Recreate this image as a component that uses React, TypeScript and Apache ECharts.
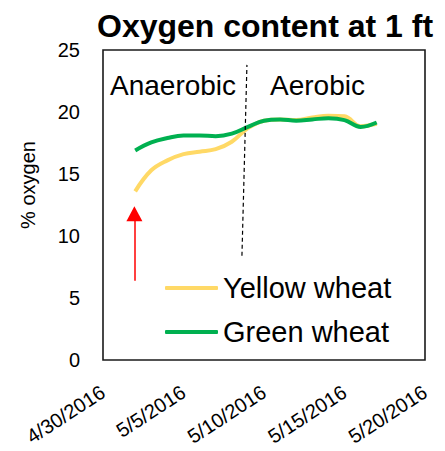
import React, { useEffect, useRef } from "react";
import * as echarts from "echarts";

const titleText = "Oxygen content at 1 ft";
const yAxisTitle = "% oxygen";
const startDate = "4/30/2016";
const xTickLabels = ["4/30/2016", "5/5/2016", "5/10/2016", "5/15/2016", "5/20/2016"];
const dates = [
  "5/2/2016", "5/3/2016", "5/4/2016", "5/5/2016", "5/6/2016", "5/7/2016", "5/8/2016", "5/9/2016",
  "5/10/2016", "5/11/2016", "5/12/2016", "5/13/2016", "5/14/2016", "5/15/2016", "5/16/2016", "5/17/2016",
];
const yellowWheat = [13.6, 15.3, 16.1, 16.6, 16.8, 17.0, 17.6, 18.7, 19.3, 19.4, 19.35, 19.55, 19.7, 19.65, 18.85, 19.05];
const greenWheat = [16.9, 17.55, 17.9, 18.1, 18.1, 18.05, 18.25, 18.8, 19.3, 19.4, 19.3, 19.4, 19.5, 19.35, 18.8, 19.15];
const seriesNames = ["Yellow wheat", "Green wheat"];
const seriesColors = ["#FFD966", "#00B050"];
const phaseLabels = ["Anaerobic", "Aerobic"];
// annotation positions in data units (day offset, % oxygen)
const dividerLine = [[8.63, 8.4], [8.94, 23.8]];
const arrowLine = [[1.95, 6.4], [1.95, 11.8]];

const FONT = "Liberation Sans";

function parseDate(s: string): number {
  const [m, d, y] = s.split("/").map(Number);
  return Date.UTC(y, m - 1, d);
}
const DAY = 86400000;
const base = parseDate(startDate);
const dayOffset = (s: string) => Math.round((parseDate(s) - base) / DAY);

export default function App() {
  const ref = useRef<HTMLDivElement>(null);
  useEffect(() => {
    if (!ref.current) return;
    const chart = echarts.init(ref.current, null, { renderer: "svg" });
    const xs = dates.map(dayOffset);
    chart.setOption({
      animation: false,
      backgroundColor: "#fff",
      title: {
        text: titleText,
        left: 97,
        top: 10,
        padding: 0,
        textStyle: { fontFamily: FONT, fontSize: 32, fontWeight: "bold", color: "#000" },
      },
      grid: {
        left: 103,
        top: 50,
        right: 20,
        bottom: 91,
        show: true,
        borderColor: "#1a1a1a",
        borderWidth: 1.6,
        containLabel: false,
      },
      legend: {
        orient: "vertical",
        left: 165,
        top: 273,
        padding: 0,
        itemWidth: 53,
        itemHeight: 4,
        itemGap: 14,
        icon: "roundRect",
        textStyle: { fontFamily: FONT, fontSize: 29, color: "#000", lineHeight: 30 },
        data: seriesNames.map((n, i) => ({ name: n, itemStyle: { color: seriesColors[i] } })),
      },
      xAxis: {
        type: "value",
        min: 0,
        max: 20,
        interval: 5,
        axisLine: { show: false },
        axisTick: { show: false },
        splitLine: { show: false },
        axisLabel: {
          rotate: 33,
          margin: 30,
          fontFamily: FONT,
          fontSize: 20,
          color: "#000",
          formatter: (v: number) => xTickLabels[Math.round(v / 5)] ?? "",
        },
      },
      yAxis: {
        type: "value",
        min: 0,
        max: 25,
        interval: 5,
        axisLine: { show: false },
        axisTick: { show: false },
        splitLine: { show: false },
        axisLabel: { margin: 23, fontFamily: FONT, fontSize: 20, color: "#000" },
      },
      graphic: [
        {
          type: "text",
          left: 110,
          top: 71,
          style: { text: phaseLabels[0], fontFamily: FONT, fontSize: 28, fill: "#000" },
        },
        {
          type: "text",
          left: 270,
          top: 71,
          style: { text: phaseLabels[1], fontFamily: FONT, fontSize: 28, fill: "#000" },
        },
        {
          type: "text",
          x: 28,
          y: 185,
          rotation: Math.PI / 2,
          style: {
            text: yAxisTitle,
            fontFamily: FONT,
            fontSize: 20,
            fill: "#000",
            align: "center",
            verticalAlign: "middle",
          },
        },
      ],
      series: [
        {
          name: seriesNames[0],
          type: "line",
          smooth: 0.4,
          symbol: "none",
          lineStyle: { color: seriesColors[0], width: 4 },
          itemStyle: { color: seriesColors[0] },
          data: xs.map((x, i) => [x, yellowWheat[i]]),
          markLine: {
            silent: true,
            symbol: ["none", "triangle"],
            symbolSize: [16, 15],
            label: { show: false },
            lineStyle: { color: "#FF0000", width: 1.5, type: "solid" },
            data: [
              [
                { coord: arrowLine[0] },
                { coord: arrowLine[1] },
              ],
            ],
          },
        },
        {
          name: seriesNames[1],
          type: "line",
          smooth: 0.4,
          symbol: "none",
          lineStyle: { color: seriesColors[1], width: 4 },
          itemStyle: { color: seriesColors[1] },
          data: xs.map((x, i) => [x, greenWheat[i]]),
          markLine: {
            silent: true,
            symbol: ["none", "none"],
            label: { show: false },
            lineStyle: { color: "#000", width: 1.2, type: [4, 3] },
            data: [
              [
                { coord: dividerLine[0] },
                { coord: dividerLine[1] },
              ],
            ],
          },
        },
      ],
    });
    return () => chart.dispose();
  }, []);
  return <div ref={ref} style={{ width: 445, height: 451, position: "absolute", left: 0, top: 0 }} />;
}
